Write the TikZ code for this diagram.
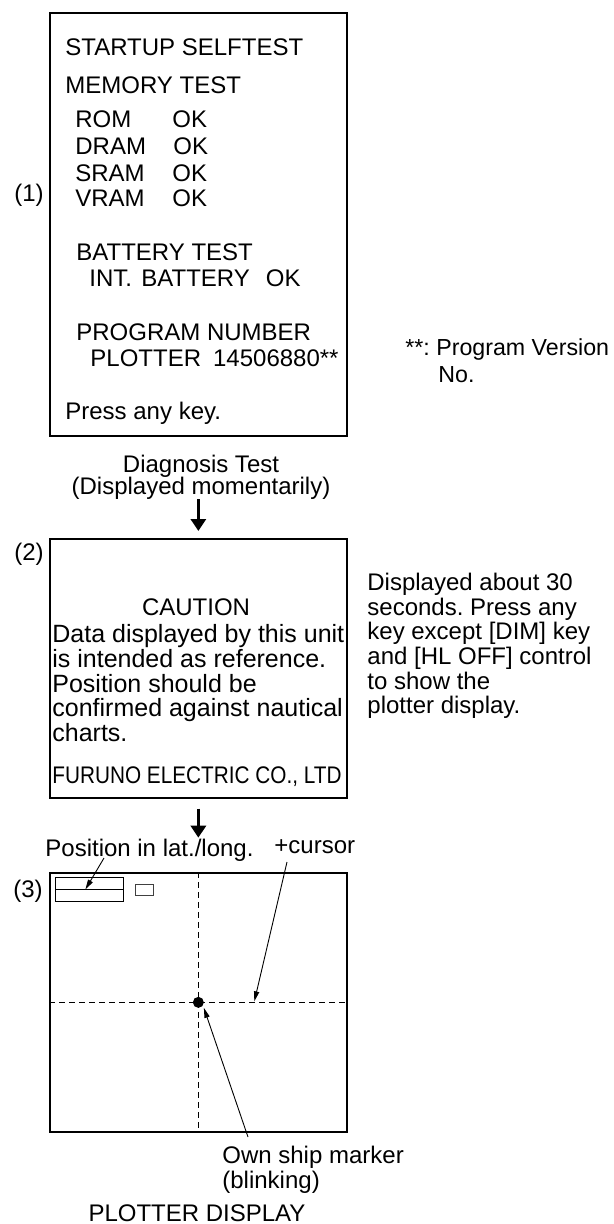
\documentclass[tikz,border=0pt]{standalone}
\usepackage{fontspec}
\setmainfont{Liberation Sans}
\usepackage{graphicx}
\usetikzlibrary{arrows.meta,calc}
\frenchspacing
\begin{document}
\begin{tikzpicture}[x=0.5pt,y=-0.5pt,
  txt/.style={inner sep=0pt, anchor=base west, font=\fontsize{12}{14}\selectfont\frenchspacing},
  txtb/.style={txt, font=\fontsize{12.5}{14}\selectfont\frenchspacing},
  txtr/.style={txt, font=\fontsize{11.6}{14}\selectfont\frenchspacing},
  ctxt/.style={txt, anchor=base},
  boxst/.style={draw, line width=0.85pt, inner sep=0pt, anchor=north west},
  bigarrow/.style={line width=1.5pt, -{Triangle[width=7.5pt,length=6pt]}},
  leader/.style={line width=0.45pt, -{Triangle[width=2.6pt,length=5pt]}},
  crossln/.style={dash pattern=on 3pt off 2pt, line width=0.5pt}
]
\useasboundingbox (0,0) rectangle (614,1224);

% ---------- Box 1
\node[boxst, minimum width=148.5pt, minimum height=211.5pt] (b1) at (49,12) {};
\node[txt] (l1) at (65,56) {STARTUP SELFTEST};
\node[txt] (l2) at (65,94) {MEMORY TEST};
\node[txt] (l3) at (75,128) {\makebox[48.5pt][l]{ROM}OK};
\node[txt] (l4) at (75,155) {\makebox[49pt][l]{DRAM}OK};
\node[txt] (l5) at (75,182) {\makebox[48.5pt][l]{SRAM}OK};
\node[txt] (l6) at (75,207) {\makebox[48.5pt][l]{VRAM}OK};
\node[txt] (l7) at (76,261) {BATTERY TEST};
\node[txt] (l8) at (89,287) {INT.\hspace{1.3pt} BATTERY\hspace{4.7pt} OK};
\node[txt] (l9) at (76,341) {PROGRAM NUMBER};
\node[txt] (l10) at (90,367) {PLOTTER\hspace{2.7pt} 14506880**};
\node[txt] (l11) at (65,420) {Press any key.};
\node[txt] (n1) at (14,202) {(1)};

\node[txtr] (pv1) at (405,356) {**: Program Version};
\node[txtr] (pv2) at (438,383) {No.};

\node[ctxt] (dg1) at (201,473) {Diagnosis Test};
\node[ctxt] (dg2) at (201,494) {(Displayed momentarily)};

% ---------- Box 2
\node[boxst, minimum width=148.5pt, minimum height=129.5pt] (b2) at (49,538) {};
\node[txt] (n2) at (14,560) {(2)};
\node[ctxt] (c0) at (196,615) {CAUTION};
\node[txtb] (c1) at (52,642) {Data displayed by this unit};
\node[txtb] (c2) at (52,667) {is intended as reference.};
\node[txtb] (c3) at (52,692) {Position should be};
\node[txtb] (c4) at (52,716) {confirmed against nautical};
\node[txtb] (c5) at (52,741) {charts.};
\node[txt] (c6) at (52,783) {\scalebox{0.865}[1]{FURUNO ELECTRIC CO., LTD}};

\node[txt] (r1) at (367,590) {Displayed about 30};
\node[txt] (r2) at (367,615) {seconds. Press any};
\node[txt] (r3) at (367,639) {key except [DIM] key};
\node[txt] (r4) at (367,664) {and [HL OFF] control};
\node[txt] (r5) at (367,689) {to show the};
\node[txt] (r6) at (367,713) {plotter display.};

\draw[bigarrow] (dg2.south -| b2.north) -- ([yshift=3.5pt]b2.north);
\draw[bigarrow] ([yshift=-5pt]b2.south) -- ++(0,29);

% ---------- Box 3
\node[boxst, minimum width=148.5pt, minimum height=129.5pt] (b3) at (49,872) {};
\draw[crossln] (b3.north) -- (b3.south);
\draw[crossln] (b3.west) -- (b3.east);
\node[circle, fill, inner sep=0pt, minimum size=5.5pt] (ship) at (b3.center) {};
\node[draw, line width=0.5pt, inner sep=0pt, minimum width=34pt, minimum height=12pt, anchor=north west] (posbox) at (55,877) {};
\draw[line width=0.9pt] (posbox.west) -- (posbox.east);
\node[draw=black!75, line width=0.45pt, inner sep=0pt, minimum width=9pt, minimum height=5.5pt, anchor=north west] (sq) at (135,884) {};

\node[txt] (n3) at (13,897) {(3)};
\node[txt] (pos) at (45,856) {Position in lat./long.};
\node[txt] (cur) at (274,853) {+cursor};
\node[txt] (own1) at (222,1163) {Own ship marker};
\node[txt] (own2) at (222,1188) {(blinking)};
\node[ctxt] (pd) at (197,1221) {PLOTTER DISPLAY};

\coordinate (posA) at (104,858);
\coordinate (curA) at (287,862);
\coordinate (ownA) at (248,1137);
\draw[leader] (posA) -- ($(posbox.west)!0.44!(posbox.east)$);
\draw[leader] (curA) -- ($(b3.center)+(56,-1)$);
\draw[leader] (ownA) -- ($(ship.center)+(5.5,5.5)$);
\end{tikzpicture}
\end{document}
